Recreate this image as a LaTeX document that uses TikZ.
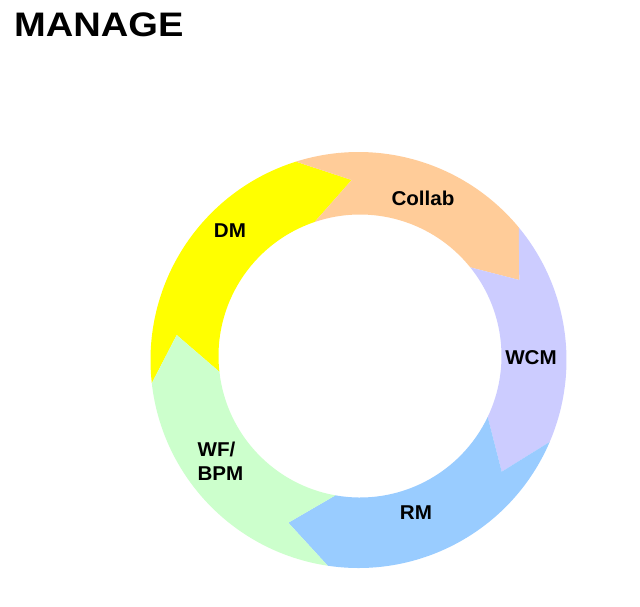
\documentclass[tikz,border=0pt]{standalone}
\usepackage{graphicx}
\usepackage{fontspec}
\setmainfont{Liberation Sans}
\usetikzlibrary{calc}
\definecolor{cYellow}{HTML}{FFFF00}
\definecolor{cPeach}{HTML}{FFCC99}
\definecolor{cLav}{HTML}{CCCCFF}
\definecolor{cBlue}{HTML}{99CCFF}
\definecolor{cGreen}{HTML}{CCFFCC}
\newcommand\ringseg[7]{%
  \fill[#1] ($(Co)+(#2:\Ro)$) arc[start angle=#2, end angle=#5, radius=\Ro]
    -- (#7) -- ($(Ci)+(#6:\Ri)$) arc[start angle=#6, end angle=#3, radius=\Ri]
    -- (#4) -- cycle;}
\begin{document}
\begin{tikzpicture}[x=1pt,y=1pt,yscale=-1,
  lbl/.style={font=\fontsize{20}{24}\selectfont\bfseries, inner sep=0pt, text=black},
  ttl/.style={font=\fontsize{34}{40}\selectfont\bfseries, inner sep=0pt, text=black}]
\useasboundingbox[fill=white] (0,0) rectangle (640,606);
\coordinate (Co) at (358.5,360);
\coordinate (Ci) at (360,356);
\def\Ro{208}\def\Ri{141.5}
% chevron tips
\coordinate (tDM) at (351.7,180);
\coordinate (tCO) at (519.3,280);
\coordinate (tWC) at (501.7,471.7);
\coordinate (tRM) at (288.3,522.7);
\coordinate (tWF) at (176.7,335);
% segments: colour, prev outer angle, prev inner angle, prev tip, outer angle, inner angle, tip
\ringseg{cYellow}{173.6}{173.6}{tWF}{252.5}{251.3}{tDM}
\ringseg{cPeach}{-107.5}{-108.7}{tDM}{-39.6}{-38.8}{tCO}
\ringseg{cLav}{-39.6}{-38.8}{tCO}{23.2}{25.5}{tWC}
\ringseg{cBlue}{23.2}{25.5}{tWC}{98.5}{100}{tRM}
\ringseg{cGreen}{98.5}{100}{tRM}{173.6}{173.6}{tWF}
% labels
\node[ttl, anchor=base west] (title) at (14,36.7) {\scalebox{1.12}[1]{MANAGE}};
\node[lbl] (collab) at (423,198) {\scalebox{1.03}[1]{Collab}};
\node[lbl] (dm) at (230,230.5) {\scalebox{1.03}[1]{DM}};
\node[lbl] (wcm) at (531,357.5) {\scalebox{1.03}[1]{WCM}};
\node[lbl] (rm) at (416,513) {\scalebox{1.03}[1]{RM}};
\node[lbl, align=left] (wf) at (220.5,461) {\scalebox{1.03}[1]{WF/}\\\scalebox{1.03}[1]{BPM}};
\end{tikzpicture}
\end{document}
